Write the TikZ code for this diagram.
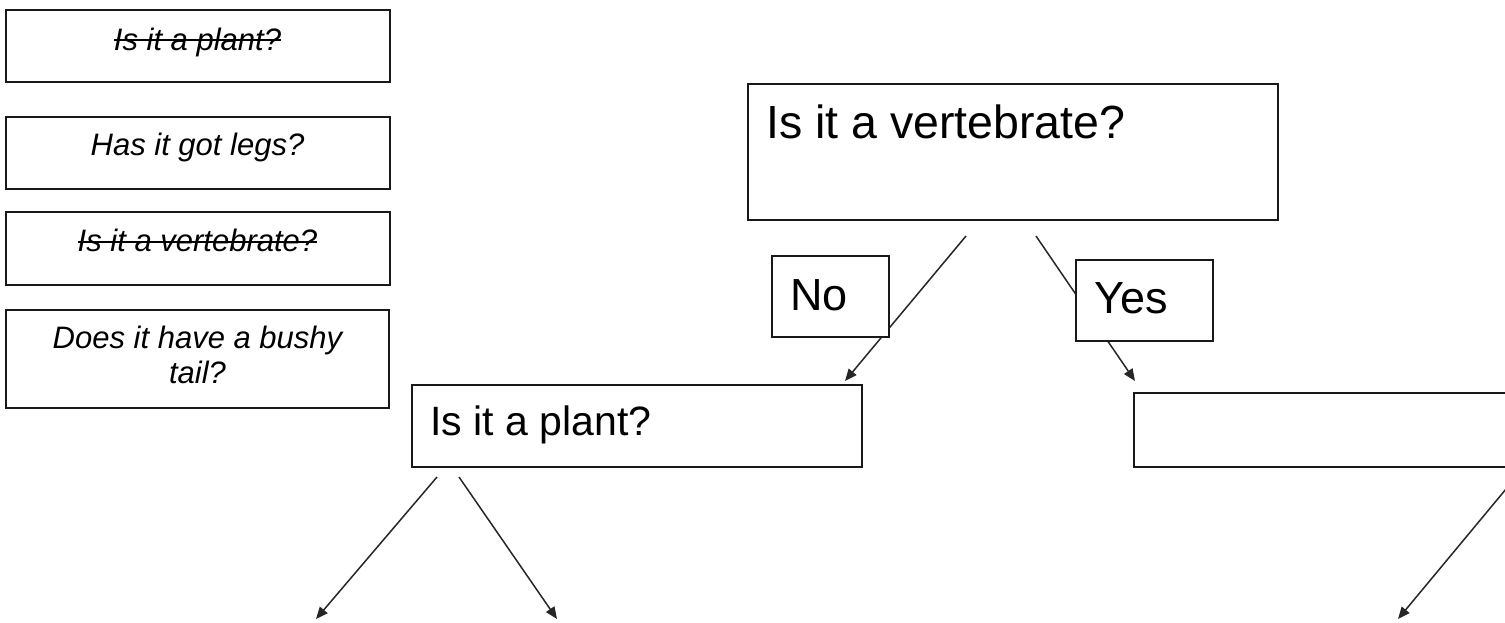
\documentclass[tikz,border=0pt]{standalone}
\usepackage{fontspec}
\setmainfont{Liberation Sans}
\usetikzlibrary{arrows.meta}
\newcommand\strk[1]{\leavevmode\setbox0\hbox{#1}\rlap{\copy0}\rule[9pt]{\wd0}{2pt}}
\begin{document}
\begin{tikzpicture}[x=1pt,y=-1pt,
  box/.style={draw=black!90,line width=1.8pt,fill=white,anchor=north west,inner sep=0,outer sep=0},
  arr/.style={draw=black!85,line width=1.5pt,-{Triangle[length=12pt,width=10pt]}},
  small/.style={font=\fontsize{31}{35}\selectfont\itshape,inner sep=0,anchor=base,text=black},
  bigtxt/.style={font=\fontsize{46.5}{50}\selectfont,inner sep=0,anchor=base west,text=black},
  midtxt/.style={font=\fontsize{45}{50}\selectfont,inner sep=0,anchor=base west,text=black},
  plaintxt/.style={font=\fontsize{41}{45}\selectfont,inner sep=0,anchor=base west,text=black},
]
\clip (0,0) rectangle (1505,622);
% left list of questions
\node[box,minimum width=384pt,minimum height=72pt] (q1) at (6,10) {};
\node[box,minimum width=384pt,minimum height=72pt] (q2) at (6,117) {};
\node[box,minimum width=384pt,minimum height=73pt] (q3) at (6,212) {};
\node[box,minimum width=383pt,minimum height=98pt] (q4) at (6,310) {};
\node[small] (t1) at (197.5,50) {\strk{Is it a plant?}};
\node[small] (t2) at (197.5,155) {Has it got legs?};
\node[small] (t3) at (197.5,251.7) {\strk{Is it a vertebrate?}};
\node[small,anchor=north,align=center] (t4) at (197.5,325.4) {Does it have a bushy\\tail?};
% tree boxes
\node[box,minimum width=530pt,minimum height=136pt] (vert) at (748,84) {};
\node[bigtxt] (vertt) at (766,138) {Is it a vertebrate?};
\node[box,minimum width=450pt,minimum height=82pt] (plant) at (412,385) {};
\node[plaintxt] (plantt) at (430,435) {Is it a plant?};
\node[box,minimum width=500pt,minimum height=74pt] (empty) at (1134,393) {};
% connectors
\coordinate (a1s) at (966,236); \coordinate (a1e) at (845,381);
\coordinate (a2s) at (1036,236); \coordinate (a2e) at (1135,381);
\coordinate (a3s) at (437,477); \coordinate (a3e) at (316,619);
\coordinate (a4s) at (459,477); \coordinate (a4e) at (557,619);
\coordinate (a5s) at (1516,477); \coordinate (a5e) at (1398,619);
\draw[arr] (a1s) -- (a1e);
\draw[arr] (a2s) -- (a2e);
\draw[arr] (a3s) -- (a3e);
\draw[arr] (a4s) -- (a4e);
\draw[arr] (a5s) -- (a5e);
% labels
\node[box,minimum width=117pt,minimum height=81pt] (no) at (772,256) {};
\node[midtxt] (not) at (790,310) {No};
\node[box,minimum width=137pt,minimum height=81pt] (yes) at (1076,260) {};
\node[midtxt] (yest) at (1094,313) {Yes};
\end{tikzpicture}
\end{document}
